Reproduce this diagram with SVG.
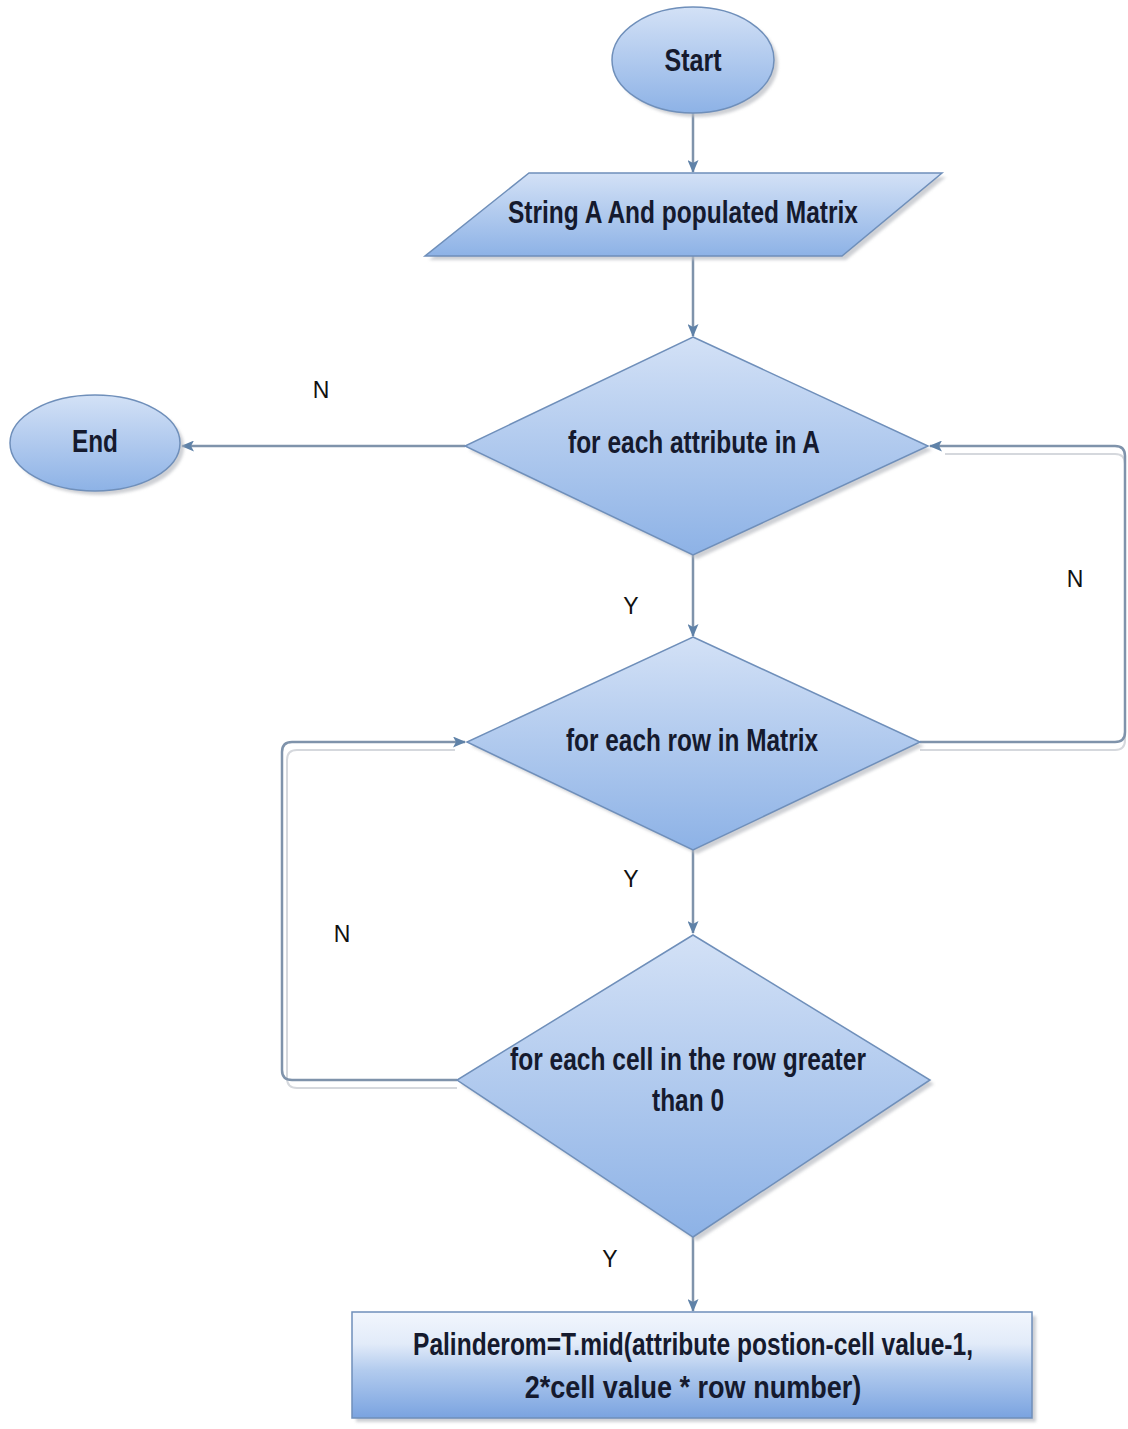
<svg xmlns="http://www.w3.org/2000/svg" width="1128" height="1429" viewBox="0 0 1128 1429">
  <style>
    .shape { fill: url(#fillGrad); stroke: #6f8fba; stroke-width: 1.5; }
    .shadow { fill: #b9bcc2; opacity: 0.7; filter: url(#soft); }
    .label { font-family: "Liberation Sans", Arial, sans-serif; font-weight: bold; font-size: 32px; fill: #151a2e; text-anchor: middle; }
    .branch { font-family: "Liberation Sans", Arial, sans-serif; font-size: 23px; fill: #111; text-anchor: middle; }
    .wire { fill: none; stroke: #7f93ab; stroke-width: 2.5; }
    .wire-shadow { fill: none; stroke: #d5d8dd; stroke-width: 2; }
  </style>
  <defs>
    <linearGradient id="fillGrad" x1="0" y1="0" x2="0" y2="1">
      <stop offset="0" stop-color="#d3e1f6"/>
      <stop offset="1" stop-color="#8db2e6"/>
    </linearGradient>
    <linearGradient id="boxGrad" x1="0" y1="0" x2="0" y2="1">
      <stop offset="0" stop-color="#f2f6fd"/>
      <stop offset="0.3" stop-color="#e2ebf9"/>
      <stop offset="0.55" stop-color="#b2cbee"/>
      <stop offset="1" stop-color="#7aa3e0"/>
    </linearGradient>
    <filter id="soft" x="-10%" y="-10%" width="120%" height="120%">
      <feGaussianBlur stdDeviation="1.5"/>
    </filter>
    <marker id="arrow" viewBox="0 0 13 11" refX="12" refY="5.5" markerWidth="13" markerHeight="11" markerUnits="userSpaceOnUse" orient="auto">
      <path d="M0,0 L13,5.5 L0,11 L3,5.5 Z" fill="#5f82a8"/>
    </marker>
  </defs>

  <rect width="1128" height="1429" fill="#ffffff"/>

  <!-- connectors -->
  <g id="connectors">
    <g transform="translate(5,8)">
      <path class="wire-shadow" d="M915,742 H1110 Q1120,742 1120,732 V456 Q1120,446 1110,446 H940"/>
      <path class="wire-shadow" d="M452,1080 H292 Q282,1080 282,1070 V752 Q282,742 292,742 H450"/>
    </g>
    <path class="wire" d="M693,113 V172" marker-end="url(#arrow)"/>
    <path class="wire" d="M693,256 V336" marker-end="url(#arrow)"/>
    <path class="wire" d="M465,446 H182" marker-end="url(#arrow)"/>
    <path class="wire" d="M693,555 V636" marker-end="url(#arrow)"/>
    <path class="wire" d="M920,742 H1115 Q1125,742 1125,732 V456 Q1125,446 1115,446 H930" marker-end="url(#arrow)"/>
    <path class="wire" d="M693,850 V933" marker-end="url(#arrow)"/>
    <path class="wire" d="M457,1080 H292 Q282,1080 282,1070 V752 Q282,742 292,742 H465" marker-end="url(#arrow)"/>
    <path class="wire" d="M693,1237 V1311" marker-end="url(#arrow)"/>

    <text class="branch" x="321" y="398">N</text>
    <text class="branch" x="1075" y="587">N</text>
    <text class="branch" x="631" y="614">Y</text>
    <text class="branch" x="631" y="887">Y</text>
    <text class="branch" x="342" y="942">N</text>
    <text class="branch" x="610" y="1267">Y</text>
  </g>

  <!-- Start terminal -->
  <g id="start">
    <ellipse class="shadow" cx="697" cy="64" rx="81" ry="53"/>
    <ellipse class="shape" cx="693" cy="60" rx="81" ry="53"/>
    <text class="label" x="693" y="71" textLength="57" lengthAdjust="spacingAndGlyphs">Start</text>
  </g>

  <!-- input: String A and matrix -->
  <g id="input">
    <polygon class="shadow" points="533,177 946,177 846,260 429,260"/>
    <polygon class="shape" points="529,173 942,173 842,256 425,256"/>
    <text class="label" x="683" y="223" textLength="350" lengthAdjust="spacingAndGlyphs">String A And populated Matrix</text>
  </g>

  <!-- decision: attributes -->
  <g id="attr-loop">
    <polygon class="shadow" points="697,341 932,450 697,559 469,450"/>
    <polygon class="shape" points="693,337 928,446 693,555 465,446"/>
    <text class="label" x="694" y="453" textLength="252" lengthAdjust="spacingAndGlyphs">for each attribute in A</text>
  </g>

  <!-- End terminal -->
  <g id="end">
    <ellipse class="shadow" cx="99" cy="447" rx="85" ry="48"/>
    <ellipse class="shape" cx="95" cy="443" rx="85" ry="48"/>
    <text class="label" x="95" y="452" textLength="46" lengthAdjust="spacingAndGlyphs">End</text>
  </g>

  <!-- decision: rows -->
  <g id="row-loop">
    <polygon class="shadow" points="697,641 924,746 697,854 471,746"/>
    <polygon class="shape" points="693,637 920,742 693,850 467,742"/>
    <text class="label" x="692" y="751" textLength="252" lengthAdjust="spacingAndGlyphs">for each row in Matrix</text>
  </g>

  <!-- decision: cells -->
  <g id="cell-loop">
    <polygon class="shadow" points="697,939 934,1084 697,1241 461,1084"/>
    <polygon class="shape" points="693,935 930,1080 693,1237 457,1080"/>
    <text class="label" x="688" y="1070" textLength="356" lengthAdjust="spacingAndGlyphs">for each cell in the row greater</text>
    <text class="label" x="688" y="1111" textLength="72" lengthAdjust="spacingAndGlyphs">than 0</text>
  </g>

  <!-- process: palindrome extraction (narrowed via horizontal scale) -->
  <g id="palindrome">
    <rect class="shadow" x="356" y="1316" width="680" height="106"/>
    <rect x="352" y="1312" width="680" height="106" fill="url(#boxGrad)" stroke="#6f8fba" stroke-width="1.5"/>
    <text class="label" transform="translate(693,1355) scale(0.7,1)" x="0" y="0" textLength="800" lengthAdjust="spacingAndGlyphs">Palinderom=T.mid(attribute postion-cell value-1,</text>
    <text class="label" transform="translate(693,1398) scale(0.7,1)" x="0" y="0" textLength="481" lengthAdjust="spacingAndGlyphs">2*cell value * row number)</text>
  </g>
</svg>
